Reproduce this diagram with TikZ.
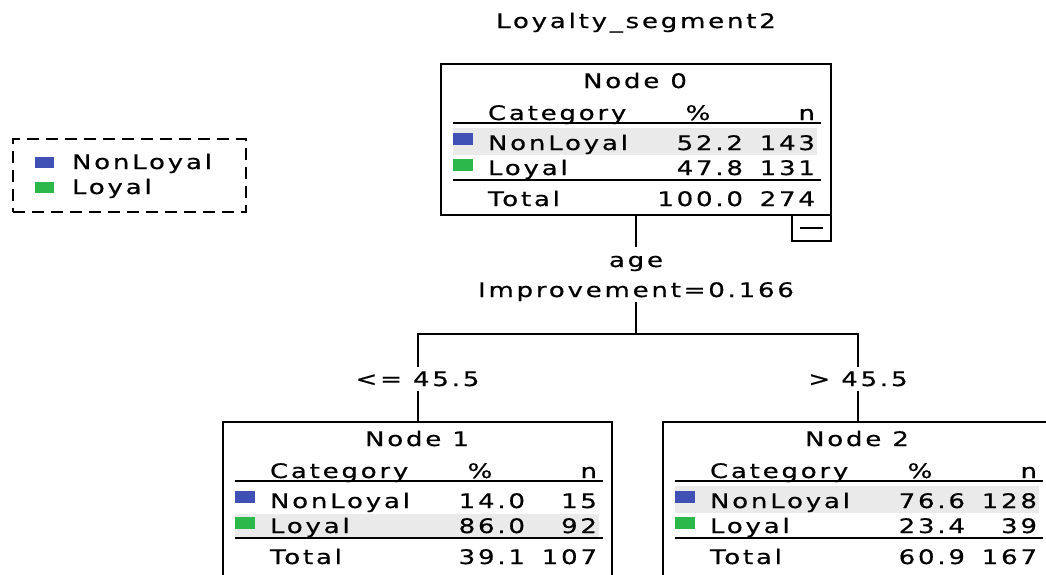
\documentclass[tikz,border=0pt]{standalone}
\usepackage{fontspec}
\newfontfamily\treefont[FakeStretch=1.3,LetterSpace=14,FakeBold=0.6]{DejaVu Sans}
\definecolor{catblue}{HTML}{3F51B5}
\definecolor{catgreen}{HTML}{2DB84C}
\definecolor{hlgray}{HTML}{EAEAEA}
\tikzset{
  txt/.style={inner sep=0pt, outer sep=0pt},
  box/.style={draw, line width=1.8pt, inner sep=0pt, outer sep=0pt},
  rulel/.style={line width=1.8pt},
  conn/.style={line width=2pt},
  hl/.style={fill=hlgray},
  sqb/.style={fill=catblue},
  sqg/.style={fill=catgreen},
}
% #1 name, #2 title, #3 highlighted row, #4 p1, #5 n1, #6 p2, #7 n2, #8 pt, #9 nt
\newcommand\treetable[9]{%
  \ifnum#3=1 \fill[hl] (12,64) rectangle (376,91);\else\fill[hl] (12,92) rectangle (376,115);\fi
  \node[txt, anchor=base] (#1-title) at (194,24) {#2};
  \node[txt, anchor=base west] (#1-cat) at (47,56) {Category};
  \node[txt, anchor=base] (#1-pct) at (257,56) {\%};
  \node[txt, anchor=base east] (#1-n) at (374,56) {n};
  \draw[rulel] (12,59) -- (380,59);
  \fill[sqb] (12,69) rectangle (32,81);
  \node[txt, anchor=base west] (#1-r1) at (47,86) {NonLoyal};
  \node[txt, anchor=base east] (#1-p1) at (302,86) {#4};
  \node[txt, anchor=base east] (#1-n1) at (374,86) {#5};
  \fill[sqg] (12,95) rectangle (32,107);
  \node[txt, anchor=base west] (#1-r2) at (47,111) {Loyal};
  \node[txt, anchor=base east] (#1-p2) at (302,111) {#6};
  \node[txt, anchor=base east] (#1-n2) at (374,111) {#7};
  \draw[rulel] (12,116) -- (380,116);
  \node[txt, anchor=base west] (#1-tot) at (47,142) {Total};
  \node[txt, anchor=base east] (#1-pt) at (302,142) {#8};
  \node[txt, anchor=base east] (#1-nt) at (374,142) {#9};
}
\begin{document}
\begin{tikzpicture}[x=1pt,y=-1pt,font=\treefont\fontsize{20}{20}\selectfont]
\clip (0,0) rectangle (1046,574);
\fill[white] (0,0) rectangle (1046,574);

% title
\node[txt, anchor=base] (title) at (636,28) {Loyalty\_segment2};

% legend
\node[draw, line width=1.8pt, dash pattern=on 12pt off 7pt, minimum width=233pt, minimum height=73pt, inner sep=0pt] (legend) at (129.5,175.5) {};
\fill[sqb] (35,157) rectangle (54,168);
\node[txt, anchor=base west] (leg-nl) at (72,169) {NonLoyal};
\fill[sqg] (35,182) rectangle (54,193);
\node[txt, anchor=base west] (leg-l) at (72,194) {Loyal};

% node 0
\begin{scope}[shift={(441,64)}]
  \treetable{n0}{Node 0}{1}{52.2}{143}{47.8}{131}{100.0}{274}
\end{scope}
\node[box, minimum width=390pt, minimum height=151pt, anchor=north west] (n0) at (441,64) {};
\node[box, minimum width=39pt, minimum height=26pt, anchor=north east] (collapse) at (n0.south east) {};
\draw[line width=1.5pt] ([xshift=8pt]collapse.west) -- ([xshift=-8pt]collapse.east);

% split labels
\node[txt, anchor=base, text height=10pt, text depth=0pt, inner ysep=10pt] (age) at (636,267) {age};
\node[txt, anchor=base, text height=14pt, text depth=0pt, inner ysep=5pt] (impr) at (636,297) {Improvement=0.166};
\coordinate (bar) at (636,334);

% node 1
\begin{scope}[shift={(223,422)}]
  \treetable{n1}{Node 1}{2}{14.0}{15}{86.0}{92}{39.1}{107}
\end{scope}
\node[box, minimum width=389pt, minimum height=200pt, anchor=north west] (n1) at (223,422) {};

% node 2
\begin{scope}[shift={(663,422)}]
  \treetable{n2}{Node 2}{1}{76.6}{128}{23.4}{39}{60.9}{167}
\end{scope}
\node[box, minimum width=390pt, minimum height=200pt, anchor=north west] (n2) at (663,422) {};

% branch labels
\node[txt, anchor=base, text height=14pt, text depth=0pt, inner ysep=5pt] (le) at (n1.north |- 0,386) {<= 45.5};
\node[txt, anchor=base, text height=14pt, text depth=0pt, inner ysep=5pt] (gt) at (n2.north |- 0,386) {> 45.5};

% connectors
\draw[conn] (n0.south) -- (age.north);
\draw[conn] (impr.south) -- (bar);
\draw[conn] (le.north) |- (bar) -| (gt.north);
\draw[conn] (le.south) -- (n1.north);
\draw[conn] (gt.south) -- (n2.north);
\end{tikzpicture}
\end{document}
